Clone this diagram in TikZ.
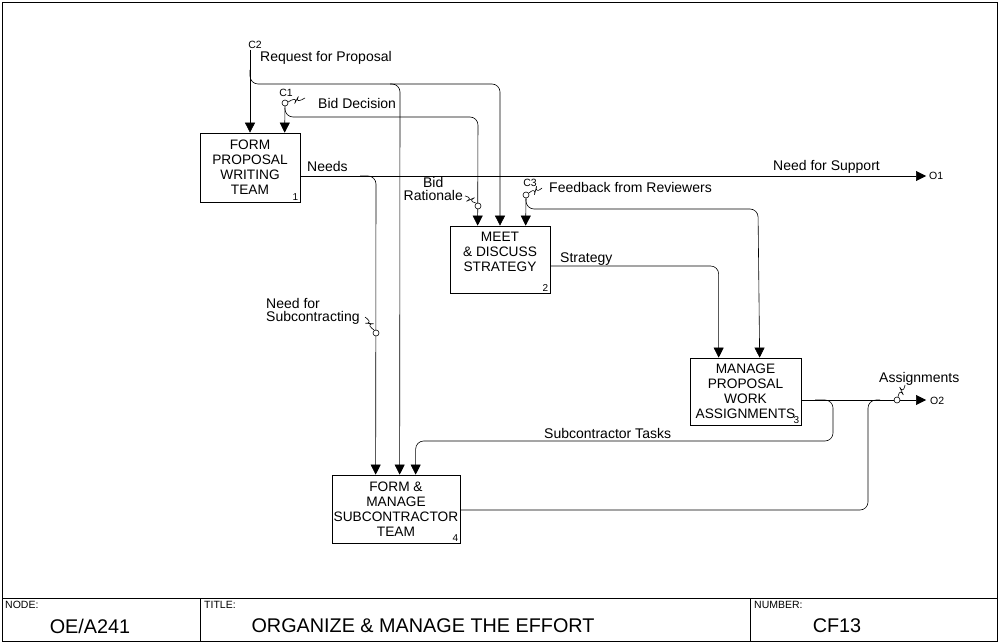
\documentclass[tikz,border=0pt]{standalone}
\usepackage{fontspec}
\setmainfont{Liberation Sans}
\usetikzlibrary{arrows.meta,positioning,calc}

% tunnel squiggle between two points
\newcommand{\squig}[2]{\draw[wire] (#1) -- ($(#1)!0.65!(#2)!3pt!90:(#2)$) -- ($(#1)!0.35!(#2)!3pt!-90:(#2)$) -- (#2);}

\begin{document}
\begin{tikzpicture}[x=1pt,y=-1pt,
  act/.style={rectangle, draw, line width=0.7pt, align=center, inner sep=0pt, font=\fontsize{13.7}{15}\selectfont},
  num/.style={anchor=south east, inner sep=2pt, font=\fontsize{10}{11}\selectfont},
  lbl/.style={inner sep=0pt, font=\fontsize{14}{13}\selectfont},
  tag/.style={inner sep=0pt, font=\fontsize{10.5}{11}\selectfont},
  ttl/.style={inner sep=0pt, font=\fontsize{19.8}{21}\selectfont},
  tun/.style={circle, draw, fill=white, line width=0.6pt, inner sep=0pt, minimum size=6pt},
  wire/.style={line width=0.6pt, rounded corners=8pt},
  >={Triangle[length=10pt,width=10pt]}
]
\useasboundingbox (0,0) rectangle (1000,644);

% frame and title bar
\draw[line width=0.8pt] (2,2) rectangle (997,641);
\draw[line width=0.8pt] (2,598) -- (997,598);
\draw[line width=0.8pt] (200,598) -- (200,641);
\draw[line width=0.8pt] (750,598) -- (750,641);
\node[tag, anchor=north west] (nodehd) at (5,601) {NODE:};
\node[ttl] (nodeid) at (90,626) {OE/A241};
\node[tag, anchor=north west] (titlehd) at (204,601) {TITLE:};
\node[ttl] (titletx) at (423,626) {ORGANIZE \& MANAGE THE EFFORT};
\node[tag, anchor=north west] (numhd) at (754,601) {NUMBER:};
\node[ttl] (numid) at (837,626) {CF13};

% activities
\node[act, minimum width=100, minimum height=69] (b1) at (250,167.5) {FORM\\PROPOSAL\\WRITING\\TEAM};
\node[act, minimum width=100, minimum height=67] (b2) at (500,259.5) {MEET\\\& DISCUSS\\STRATEGY\\{}};
\node[act, minimum width=111, minimum height=67] (b3) at (745.5,391.5) {MANAGE\\PROPOSAL\\WORK\\ASSIGNMENTS};
\node[act, minimum width=128, minimum height=68] (b4) at (396,509) {FORM \&\\MANAGE\\SUBCONTRACTOR\\TEAM};
\node[num] (n1) at (b1.south east) {1};
\node[num] (n2) at (b2.south east) {2};
\node[num] (n3) at (b3.south east) {3};
\node[num] (n4) at (b4.south east) {4};

% boundary ends and bends
\coordinate (c2) at (250,50);
\coordinate (j2) at (250,70);
\coordinate (j1) at (285,108);
\coordinate (j3) at (526,199);
\coordinate (needx) at (376,176);
\coordinate (o1) at (926,176);
\coordinate (o2) at (926,400);

% controls
\draw[wire,->] (c2) -- (c2 |- b1.north);
\draw[wire,->] (j2) |- (400,84) -- ($(b4.north west)+(68,0)$);
\draw[wire,->] (390,84) -| (b2.north);
\draw[wire,->] (285,103) -- ($(b1.north west)+(85,0)$);
\draw[wire,->] (j1) |- (478,117) -- ($(b2.north west)+(28,0)$);
\draw[wire,->] (526,195) -- ($(b2.north west)+(76,0)$);
\draw[wire,->] (j3) |- (758,209) -- ($(b3.north west)+(70,0)$);

% outputs
\draw[wire,->] (b1.east |- o1) -- (o1);
\draw[wire,->] (360,176) -- (needx) -- ($(b4.north west)+(44,0)$);
\draw[wire,->] (b2.east |- 0,266) -| ($(b3.north west)+(29,0)$);
\draw[wire,->] (b3.east |- o2) -- (o2);
\draw[wire,->] (815,400) -- (833,400) -- (833,441) -| ($(b4.north west)+(84,0)$);
\draw[wire] (b4.east |- 0,510) -| (868,400) -- (880,400);

% tunnels
\node[tun] (tc1) at (285,103) {};
\node[tun] (tc3) at (526,195) {};
\node[tun] (tbr) at (478,206) {};
\node[tun] (tns) at (376,333) {};
\node[tun] (tas) at (897,400) {};
\squig{288,102}{305,98}
\squig{529,193}{542,188}
\squig{465,196}{476,203}
\squig{365,317}{374,330}
\squig{898,397}{905,385}

% labels
\node[tag, anchor=south] (c2t) at (255,49) {C2};
\node[tag, anchor=south] (c1t) at (286,97) {C1};
\node[tag, anchor=south] (c3t) at (530,187) {C3};
\node[tag, anchor=west] (o1t) at (929,176) {O1};
\node[tag, anchor=west] (o2t) at (930,401) {O2};
\node[lbl, anchor=west] (rfp) at (260,58) {Request for Proposal};
\node[lbl, anchor=west] (bd) at (318,103) {Bid Decision};
\node[lbl, anchor=west] (nd) at (307,166) {Needs};
\node[lbl, anchor=east, align=center, font=\fontsize{14}{12.5}\selectfont] (br) at (463,189) {Bid\\Rationale};
\node[lbl, anchor=west] (fb) at (549,187) {Feedback from Reviewers};
\node[lbl, anchor=west] (nfs) at (773,167) {Need for Support};
\node[lbl, anchor=west] (st) at (560,259) {Strategy};
\node[lbl, anchor=west, align=left] (nsub) at (266,311) {Need for\\Subcontracting};
\node[lbl, anchor=west] (asg) at (879,379) {Assignments};
\node[lbl, anchor=west] (sct) at (544,433) {Subcontractor Tasks};
\end{tikzpicture}
\end{document}
